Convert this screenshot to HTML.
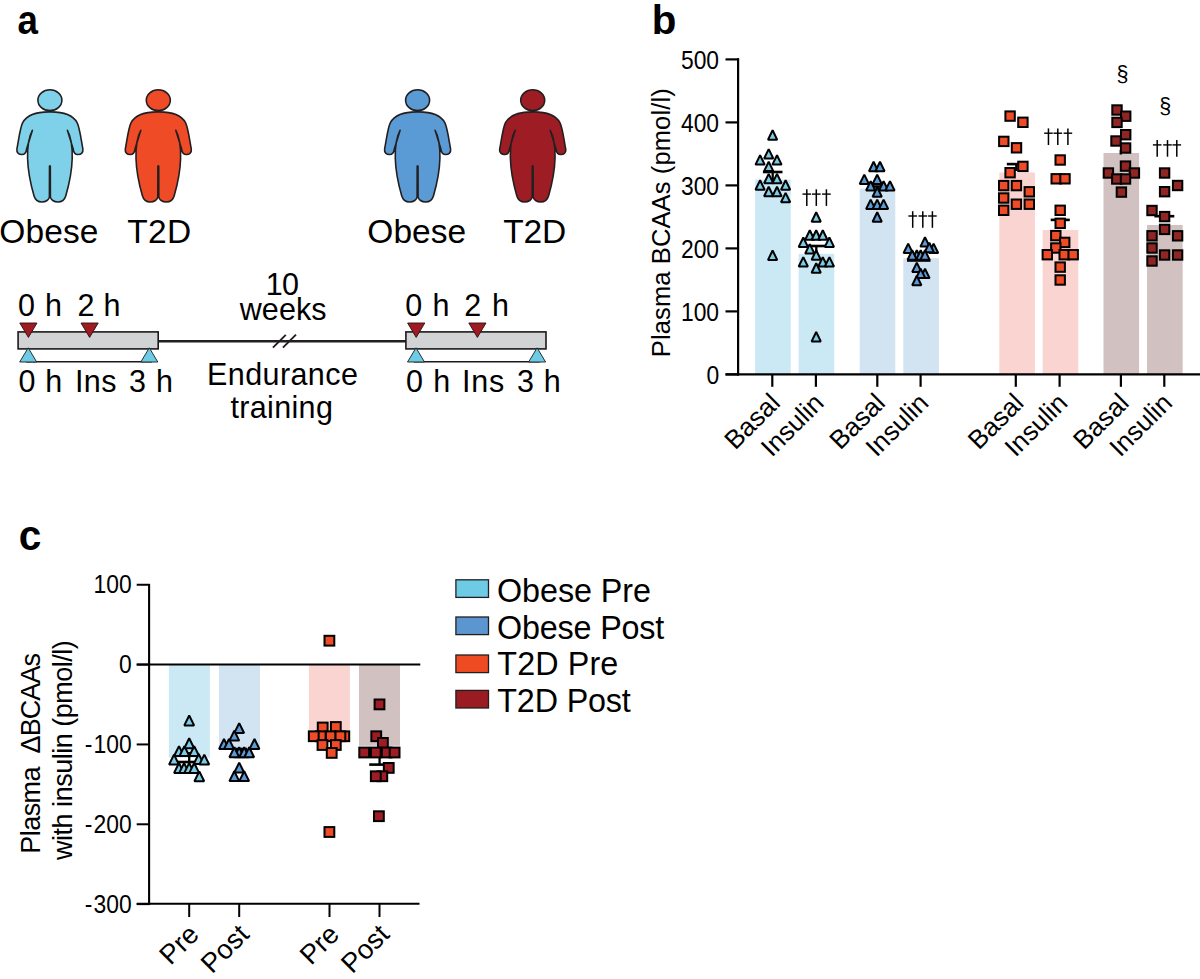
<!DOCTYPE html>
<html><head><meta charset="utf-8"><style>
html,body{margin:0;padding:0;background:#fff;overflow:hidden;}
svg{display:block;font-family:"Liberation Sans", sans-serif;}
text{fill:#000;}
</style></head><body>
<svg width="1200" height="979" viewBox="0 0 1200 979">
<text x="0" y="0" font-size="41.43" font-weight="bold" transform="translate(17.52,34.30) scale(0.887,1)">a</text>
<text x="0" y="0" font-size="40.17" font-weight="bold" transform="translate(651.84,34.11) scale(1.003,1)">b</text>
<text x="0" y="0" font-size="42.16" font-weight="bold" transform="translate(18.71,550.09) scale(0.963,1)">c</text>
<g transform="translate(49.9,90)" fill="#7fd1e9" stroke="#231f20" stroke-width="1.6" stroke-linejoin="round"><ellipse cx="0" cy="10.2" rx="12" ry="10.4"/><path d="M0 21.9 C13.3 21.7 22.6 24.6 27.2 32.6 C29.9 37.9 31.2 49.8 33 59.1 C33.6 63.1 30.6 64.7 27.9 64.5 C25.2 64.5 23.7 62.5 23.3 59.1 L17.5 40.3 C20.6 45.8 22.6 56.5 22.3 68.4 C22 80.4 18.6 96.3 15.9 105.7 C14.6 110.3 11.3 112 8 112 C4 112 0.8 109.6 0.5 107 L0.4 76.4 Q0 75.4 -0.4 76.4 L-0.5 107 C-0.8 109.6 -4 112 -8 112 C-11.3 112 -14.6 110.3 -15.9 105.7 C-18.6 96.3 -22 80.4 -22.3 68.4 C-22.6 56.5 -20.6 45.8 -17.5 40.3 L-23.3 59.1 C-23.7 62.5 -25.2 64.5 -27.9 64.5 C-30.6 64.7 -33.6 63.1 -33 59.1 C-31.2 49.8 -29.9 37.9 -27.2 32.6 C-22.6 24.6 -13.3 21.7 0 21.9 Z"/></g>
<g transform="translate(158.3,90)" fill="#ee4b26" stroke="#231f20" stroke-width="1.6" stroke-linejoin="round"><ellipse cx="0" cy="10.2" rx="12" ry="10.4"/><path d="M0 21.9 C13.3 21.7 22.6 24.6 27.2 32.6 C29.9 37.9 31.2 49.8 33 59.1 C33.6 63.1 30.6 64.7 27.9 64.5 C25.2 64.5 23.7 62.5 23.3 59.1 L17.5 40.3 C20.6 45.8 22.6 56.5 22.3 68.4 C22 80.4 18.6 96.3 15.9 105.7 C14.6 110.3 11.3 112 8 112 C4 112 0.8 109.6 0.5 107 L0.4 76.4 Q0 75.4 -0.4 76.4 L-0.5 107 C-0.8 109.6 -4 112 -8 112 C-11.3 112 -14.6 110.3 -15.9 105.7 C-18.6 96.3 -22 80.4 -22.3 68.4 C-22.6 56.5 -20.6 45.8 -17.5 40.3 L-23.3 59.1 C-23.7 62.5 -25.2 64.5 -27.9 64.5 C-30.6 64.7 -33.6 63.1 -33 59.1 C-31.2 49.8 -29.9 37.9 -27.2 32.6 C-22.6 24.6 -13.3 21.7 0 21.9 Z"/></g>
<g transform="translate(417.6,90)" fill="#5b9bd5" stroke="#231f20" stroke-width="1.6" stroke-linejoin="round"><ellipse cx="0" cy="10.2" rx="12" ry="10.4"/><path d="M0 21.9 C13.3 21.7 22.6 24.6 27.2 32.6 C29.9 37.9 31.2 49.8 33 59.1 C33.6 63.1 30.6 64.7 27.9 64.5 C25.2 64.5 23.7 62.5 23.3 59.1 L17.5 40.3 C20.6 45.8 22.6 56.5 22.3 68.4 C22 80.4 18.6 96.3 15.9 105.7 C14.6 110.3 11.3 112 8 112 C4 112 0.8 109.6 0.5 107 L0.4 76.4 Q0 75.4 -0.4 76.4 L-0.5 107 C-0.8 109.6 -4 112 -8 112 C-11.3 112 -14.6 110.3 -15.9 105.7 C-18.6 96.3 -22 80.4 -22.3 68.4 C-22.6 56.5 -20.6 45.8 -17.5 40.3 L-23.3 59.1 C-23.7 62.5 -25.2 64.5 -27.9 64.5 C-30.6 64.7 -33.6 63.1 -33 59.1 C-31.2 49.8 -29.9 37.9 -27.2 32.6 C-22.6 24.6 -13.3 21.7 0 21.9 Z"/></g>
<g transform="translate(532.7,90)" fill="#9e1d25" stroke="#231f20" stroke-width="1.6" stroke-linejoin="round"><ellipse cx="0" cy="10.2" rx="12" ry="10.4"/><path d="M0 21.9 C13.3 21.7 22.6 24.6 27.2 32.6 C29.9 37.9 31.2 49.8 33 59.1 C33.6 63.1 30.6 64.7 27.9 64.5 C25.2 64.5 23.7 62.5 23.3 59.1 L17.5 40.3 C20.6 45.8 22.6 56.5 22.3 68.4 C22 80.4 18.6 96.3 15.9 105.7 C14.6 110.3 11.3 112 8 112 C4 112 0.8 109.6 0.5 107 L0.4 76.4 Q0 75.4 -0.4 76.4 L-0.5 107 C-0.8 109.6 -4 112 -8 112 C-11.3 112 -14.6 110.3 -15.9 105.7 C-18.6 96.3 -22 80.4 -22.3 68.4 C-22.6 56.5 -20.6 45.8 -17.5 40.3 L-23.3 59.1 C-23.7 62.5 -25.2 64.5 -27.9 64.5 C-30.6 64.7 -33.6 63.1 -33 59.1 C-31.2 49.8 -29.9 37.9 -27.2 32.6 C-22.6 24.6 -13.3 21.7 0 21.9 Z"/></g>
<text x="-0.79" y="243.3" font-size="33.5" font-weight="normal" letter-spacing="0.144">Obese</text>
<text x="127.25" y="243.2" font-size="33.5" font-weight="normal" letter-spacing="0.384">T2D</text>
<text x="367.31" y="243.4" font-size="33.5" font-weight="normal" letter-spacing="0.056">Obese</text>
<text x="503.35" y="243.4" font-size="33.5" font-weight="normal" letter-spacing="-0.266">T2D</text>
<line x1="158" y1="341.2" x2="406" y2="341.2" stroke="#231f20" stroke-width="2.4"/>
<line x1="272.9" y1="347.7" x2="285.8" y2="334.8" stroke="#231f20" stroke-width="1.9"/>
<line x1="282.9" y1="347.7" x2="296" y2="334.6" stroke="#231f20" stroke-width="1.9"/>
<rect x="18.1" y="331.9" width="140.1" height="17" fill="#d1d3d4" stroke="#1a1a1a" stroke-width="1.6"/>
<line x1="26" y1="361.8" x2="152" y2="361.8" stroke="#1a1a1a" stroke-width="1.5"/>
<path d="M19.799999999999997 323 L37.0 323 L28.4 337.4 Z" fill="#9e1b22" stroke="#2a1012" stroke-width="0.9" stroke-linejoin="round"/>
<path d="M81.0 323 L98.19999999999999 323 L89.6 337.4 Z" fill="#9e1b22" stroke="#2a1012" stroke-width="0.9" stroke-linejoin="round"/>
<path d="M19.7 362 L36.7 362 L28.2 347.8 Z" fill="#6dcbe6" stroke="#1a1a1a" stroke-width="0.9" stroke-linejoin="round"/>
<path d="M140.8 362 L157.8 362 L149.3 347.8 Z" fill="#6dcbe6" stroke="#1a1a1a" stroke-width="0.9" stroke-linejoin="round"/>
<rect x="405.90000000000003" y="331.9" width="140.1" height="17" fill="#d1d3d4" stroke="#1a1a1a" stroke-width="1.6"/>
<line x1="413.8" y1="361.8" x2="539.8" y2="361.8" stroke="#1a1a1a" stroke-width="1.5"/>
<path d="M407.59999999999997 323 L424.8 323 L416.2 337.4 Z" fill="#9e1b22" stroke="#2a1012" stroke-width="0.9" stroke-linejoin="round"/>
<path d="M468.79999999999995 323 L486.0 323 L477.4 337.4 Z" fill="#9e1b22" stroke="#2a1012" stroke-width="0.9" stroke-linejoin="round"/>
<path d="M407.5 362 L424.5 362 L416.0 347.8 Z" fill="#6dcbe6" stroke="#1a1a1a" stroke-width="0.9" stroke-linejoin="round"/>
<path d="M528.6 362 L545.6 362 L537.1 347.8 Z" fill="#6dcbe6" stroke="#1a1a1a" stroke-width="0.9" stroke-linejoin="round"/>
<text x="18.01" y="316.4" font-size="30.5" font-weight="normal" letter-spacing="0.786">0 h</text>
<text x="77.47" y="316.4" font-size="30.5" font-weight="normal" letter-spacing="0.308">2 h</text>
<text x="18.41" y="392" font-size="30.5" font-weight="normal" letter-spacing="0.736">0 h</text>
<text x="74.89" y="392" font-size="30.5" font-weight="normal" letter-spacing="0.515">Ins</text>
<text x="128.94" y="392" font-size="30.5" font-weight="normal" letter-spacing="0.872">3 h</text>
<text x="405.31" y="316.4" font-size="30.5" font-weight="normal" letter-spacing="0.936">0 h</text>
<text x="464.17" y="316.4" font-size="30.5" font-weight="normal" letter-spacing="1.258">2 h</text>
<text x="406.01" y="392" font-size="30.5" font-weight="normal" letter-spacing="0.936">0 h</text>
<text x="462.09" y="392" font-size="30.5" font-weight="normal" letter-spacing="0.715">Ins</text>
<text x="516.94" y="392" font-size="30.5" font-weight="normal" letter-spacing="0.722">3 h</text>
<text x="265.68" y="295" font-size="30.5" font-weight="normal" letter-spacing="-0.611">10</text>
<text x="239.74" y="320.3" font-size="30.5" font-weight="normal" letter-spacing="0.076">weeks</text>
<text x="207.10" y="384.5" font-size="30.5" font-weight="normal" letter-spacing="0.404">Endurance</text>
<text x="230.44" y="417.6" font-size="30.5" font-weight="normal" letter-spacing="0.342">training</text>
<rect x="755.1" y="179.6" width="35.6" height="194.79999999999998" fill="#cbe9f4"/>
<rect x="798.6500000000001" y="253.8" width="35.6" height="120.59999999999997" fill="#cbe9f4"/>
<rect x="859.7" y="188.6" width="35.6" height="185.79999999999998" fill="#d2e3f1"/>
<rect x="903.3000000000001" y="258.2" width="35.6" height="116.19999999999999" fill="#d2e3f1"/>
<rect x="999.3000000000001" y="172.5" width="35.6" height="201.89999999999998" fill="#f9d4d0"/>
<rect x="1042.7" y="230" width="35.6" height="144.39999999999998" fill="#f9d4d0"/>
<rect x="1103.5" y="153" width="35.6" height="221.39999999999998" fill="#d1c1c1"/>
<rect x="1147.05" y="225" width="35.6" height="149.39999999999998" fill="#d1c1c1"/>
<line x1="738.1" y1="58.3" x2="738.1" y2="375.5" stroke="#000" stroke-width="2.2"/>
<line x1="725.5" y1="374.4" x2="1200" y2="374.4" stroke="#000" stroke-width="2.2"/>
<line x1="725.5" y1="374.40" x2="739" y2="374.40" stroke="#000" stroke-width="2.2"/>
<text x="0" y="0" font-size="25.4" transform="translate(706.38,383.85) scale(0.9,1)">0</text>
<line x1="725.5" y1="311.40" x2="739" y2="311.40" stroke="#000" stroke-width="2.2"/>
<text x="0" y="0" font-size="25.4" transform="translate(680.95,320.85) scale(0.9,1)">100</text>
<line x1="725.5" y1="248.40" x2="739" y2="248.40" stroke="#000" stroke-width="2.2"/>
<text x="0" y="0" font-size="25.4" transform="translate(680.95,257.85) scale(0.9,1)">200</text>
<line x1="725.5" y1="185.40" x2="739" y2="185.40" stroke="#000" stroke-width="2.2"/>
<text x="0" y="0" font-size="25.4" transform="translate(680.95,194.85) scale(0.9,1)">300</text>
<line x1="725.5" y1="122.40" x2="739" y2="122.40" stroke="#000" stroke-width="2.2"/>
<text x="0" y="0" font-size="25.4" transform="translate(680.95,131.85) scale(0.9,1)">400</text>
<line x1="725.5" y1="59.40" x2="739" y2="59.40" stroke="#000" stroke-width="2.2"/>
<text x="0" y="0" font-size="25.4" transform="translate(680.95,68.85) scale(0.9,1)">500</text>
<line x1="772.3" y1="374.4" x2="772.3" y2="386.8" stroke="#000" stroke-width="2.2"/>
<line x1="815.9" y1="374.4" x2="815.9" y2="386.8" stroke="#000" stroke-width="2.2"/>
<line x1="877.3" y1="374.4" x2="877.3" y2="386.8" stroke="#000" stroke-width="2.2"/>
<line x1="920.6" y1="374.4" x2="920.6" y2="386.8" stroke="#000" stroke-width="2.2"/>
<line x1="1015.8" y1="374.4" x2="1015.8" y2="386.8" stroke="#000" stroke-width="2.2"/>
<line x1="1059.6" y1="374.4" x2="1059.6" y2="386.8" stroke="#000" stroke-width="2.2"/>
<line x1="1120.9" y1="374.4" x2="1120.9" y2="386.8" stroke="#000" stroke-width="2.2"/>
<line x1="1164.3" y1="374.4" x2="1164.3" y2="386.8" stroke="#000" stroke-width="2.2"/>
<text x="0" y="0" font-size="26.2" text-anchor="end" transform="translate(781.5,404.5) rotate(-45)">Basal</text>
<text x="0" y="0" font-size="26.2" text-anchor="end" transform="translate(825.3,404.5) rotate(-45)">Insulin</text>
<text x="0" y="0" font-size="26.2" text-anchor="end" transform="translate(886.6999999999999,404.5) rotate(-45)">Basal</text>
<text x="0" y="0" font-size="26.2" text-anchor="end" transform="translate(930.0,404.5) rotate(-45)">Insulin</text>
<text x="0" y="0" font-size="26.2" text-anchor="end" transform="translate(1025.2,404.5) rotate(-45)">Basal</text>
<text x="0" y="0" font-size="26.2" text-anchor="end" transform="translate(1069.0,404.5) rotate(-45)">Insulin</text>
<text x="0" y="0" font-size="26.2" text-anchor="end" transform="translate(1130.3000000000002,404.5) rotate(-45)">Basal</text>
<text x="0" y="0" font-size="26.2" text-anchor="end" transform="translate(1173.7,404.5) rotate(-45)">Insulin</text>
<text x="0" y="0" font-size="25.5" letter-spacing="0.124" transform="translate(670,357.19) rotate(-90)">Plasma BCAAs (pmol/l)</text>
<line x1="762.9" y1="172" x2="782.5" y2="172" stroke="#000" stroke-width="2.6"/>
<line x1="772.7" y1="172" x2="772.7" y2="183" stroke="#000" stroke-width="2.3"/>
<g stroke="#000" stroke-width="2"><path d="M768.00 139.70 L777.20 139.70 L772.60 130.30 Z" fill="#7ccbe7" stroke-linejoin="bevel"/><path d="M764.10 158.50 L773.30 158.50 L768.70 149.10 Z" fill="#7ccbe7" stroke-linejoin="bevel"/><path d="M755.50 164.60 L764.70 164.60 L760.10 155.20 Z" fill="#7ccbe7" stroke-linejoin="bevel"/><path d="M772.40 164.60 L781.60 164.60 L777.00 155.20 Z" fill="#7ccbe7" stroke-linejoin="bevel"/><path d="M764.10 171.10 L773.30 171.10 L768.70 161.70 Z" fill="#7ccbe7" stroke-linejoin="bevel"/><path d="M764.10 183.30 L773.30 183.30 L768.70 173.90 Z" fill="#7ccbe7" stroke-linejoin="bevel"/><path d="M772.40 183.30 L781.60 183.30 L777.00 173.90 Z" fill="#7ccbe7" stroke-linejoin="bevel"/><path d="M755.50 189.70 L764.70 189.70 L760.10 180.30 Z" fill="#7ccbe7" stroke-linejoin="bevel"/><path d="M781.00 189.70 L790.20 189.70 L785.60 180.30 Z" fill="#7ccbe7" stroke-linejoin="bevel"/><path d="M764.10 196.20 L773.30 196.20 L768.70 186.80 Z" fill="#7ccbe7" stroke-linejoin="bevel"/><path d="M772.40 196.20 L781.60 196.20 L777.00 186.80 Z" fill="#7ccbe7" stroke-linejoin="bevel"/><path d="M781.00 202.30 L790.20 202.30 L785.60 192.90 Z" fill="#7ccbe7" stroke-linejoin="bevel"/><path d="M768.00 259.90 L777.20 259.90 L772.60 250.50 Z" fill="#7ccbe7" stroke-linejoin="bevel"/></g>
<line x1="807.4" y1="246" x2="825.8" y2="246" stroke="#000" stroke-width="2.6"/>
<line x1="816.3" y1="246" x2="816.3" y2="251.6" stroke="#000" stroke-width="2.3"/>
<g stroke="#000" stroke-width="2"><path d="M811.60 221.70 L820.80 221.70 L816.20 212.30 Z" fill="#7ccbe7" stroke-linejoin="bevel"/><path d="M805.20 239.70 L814.40 239.70 L809.80 230.30 Z" fill="#7ccbe7" stroke-linejoin="bevel"/><path d="M811.60 239.70 L820.80 239.70 L816.20 230.30 Z" fill="#7ccbe7" stroke-linejoin="bevel"/><path d="M818.20 239.70 L827.40 239.70 L822.80 230.30 Z" fill="#7ccbe7" stroke-linejoin="bevel"/><path d="M798.70 246.90 L807.90 246.90 L803.30 237.50 Z" fill="#7ccbe7" stroke-linejoin="bevel"/><path d="M824.80 246.90 L834.00 246.90 L829.40 237.50 Z" fill="#7ccbe7" stroke-linejoin="bevel"/><path d="M805.20 253.50 L814.40 253.50 L809.80 244.10 Z" fill="#7ccbe7" stroke-linejoin="bevel"/><path d="M811.60 259.70 L820.80 259.70 L816.20 250.30 Z" fill="#7ccbe7" stroke-linejoin="bevel"/><path d="M798.70 266.50 L807.90 266.50 L803.30 257.10 Z" fill="#7ccbe7" stroke-linejoin="bevel"/><path d="M818.20 266.50 L827.40 266.50 L822.80 257.10 Z" fill="#7ccbe7" stroke-linejoin="bevel"/><path d="M824.80 266.50 L834.00 266.50 L829.40 257.10 Z" fill="#7ccbe7" stroke-linejoin="bevel"/><path d="M811.60 272.70 L820.80 272.70 L816.20 263.30 Z" fill="#7ccbe7" stroke-linejoin="bevel"/><path d="M811.60 341.40 L820.80 341.40 L816.20 332.00 Z" fill="#7ccbe7" stroke-linejoin="bevel"/></g>
<line x1="868" y1="186.5" x2="887" y2="186.5" stroke="#000" stroke-width="2.6"/>
<line x1="877.3" y1="186.5" x2="877.3" y2="192" stroke="#000" stroke-width="2.3"/>
<g stroke="#000" stroke-width="2"><path d="M869.00 171.20 L878.20 171.20 L873.60 161.80 Z" fill="#5b9bd5" stroke-linejoin="bevel"/><path d="M875.40 171.20 L884.60 171.20 L880.00 161.80 Z" fill="#5b9bd5" stroke-linejoin="bevel"/><path d="M859.70 184.00 L868.90 184.00 L864.30 174.60 Z" fill="#5b9bd5" stroke-linejoin="bevel"/><path d="M872.60 184.00 L881.80 184.00 L877.20 174.60 Z" fill="#5b9bd5" stroke-linejoin="bevel"/><path d="M866.10 190.50 L875.30 190.50 L870.70 181.10 Z" fill="#5b9bd5" stroke-linejoin="bevel"/><path d="M879.00 190.50 L888.20 190.50 L883.60 181.10 Z" fill="#5b9bd5" stroke-linejoin="bevel"/><path d="M885.40 190.50 L894.60 190.50 L890.00 181.10 Z" fill="#5b9bd5" stroke-linejoin="bevel"/><path d="M872.60 196.70 L881.80 196.70 L877.20 187.30 Z" fill="#5b9bd5" stroke-linejoin="bevel"/><path d="M866.10 209.00 L875.30 209.00 L870.70 199.60 Z" fill="#5b9bd5" stroke-linejoin="bevel"/><path d="M872.60 209.00 L881.80 209.00 L877.20 199.60 Z" fill="#5b9bd5" stroke-linejoin="bevel"/><path d="M879.00 209.00 L888.20 209.00 L883.60 199.60 Z" fill="#5b9bd5" stroke-linejoin="bevel"/><path d="M872.60 221.70 L881.80 221.70 L877.20 212.30 Z" fill="#5b9bd5" stroke-linejoin="bevel"/></g>
<line x1="907" y1="260.5" x2="930.5" y2="260.5" stroke="#000" stroke-width="2.6"/>
<g stroke="#000" stroke-width="2"><path d="M920.40 246.60 L929.60 246.60 L925.00 237.20 Z" fill="#5b9bd5" stroke-linejoin="bevel"/><path d="M903.60 253.00 L912.80 253.00 L908.20 243.60 Z" fill="#5b9bd5" stroke-linejoin="bevel"/><path d="M929.00 253.00 L938.20 253.00 L933.60 243.60 Z" fill="#5b9bd5" stroke-linejoin="bevel"/><path d="M924.70 252.20 L933.90 252.20 L929.30 242.80 Z" fill="#5b9bd5" stroke-linejoin="bevel"/><path d="M912.20 259.70 L921.40 259.70 L916.80 250.30 Z" fill="#5b9bd5" stroke-linejoin="bevel"/><path d="M916.10 259.70 L925.30 259.70 L920.70 250.30 Z" fill="#5b9bd5" stroke-linejoin="bevel"/><path d="M907.60 259.70 L916.80 259.70 L912.20 250.30 Z" fill="#5b9bd5" stroke-linejoin="bevel"/><path d="M920.40 259.70 L929.60 259.70 L925.00 250.30 Z" fill="#5b9bd5" stroke-linejoin="bevel"/><path d="M912.20 272.00 L921.40 272.00 L916.80 262.60 Z" fill="#5b9bd5" stroke-linejoin="bevel"/><path d="M920.40 278.10 L929.60 278.10 L925.00 268.70 Z" fill="#5b9bd5" stroke-linejoin="bevel"/><path d="M916.10 278.10 L925.30 278.10 L920.70 268.70 Z" fill="#5b9bd5" stroke-linejoin="bevel"/><path d="M912.20 285.20 L921.40 285.20 L916.80 275.80 Z" fill="#5b9bd5" stroke-linejoin="bevel"/></g>
<line x1="1006.8" y1="164.1" x2="1026" y2="164.1" stroke="#000" stroke-width="2.6"/>
<line x1="1016.3" y1="164.1" x2="1016.3" y2="171" stroke="#000" stroke-width="2.3"/>
<g stroke="#000" stroke-width="2"><rect x="1005.40" y="111.40" width="9.4" height="9.4" fill="#ee4b26"/><rect x="1018.20" y="117.60" width="9.4" height="9.4" fill="#ee4b26"/><rect x="999.10" y="136.70" width="9.4" height="9.4" fill="#ee4b26"/><rect x="1011.80" y="143.10" width="9.4" height="9.4" fill="#ee4b26"/><rect x="1018.20" y="161.70" width="9.4" height="9.4" fill="#ee4b26"/><rect x="1005.40" y="168.00" width="9.4" height="9.4" fill="#ee4b26"/><rect x="999.00" y="180.90" width="9.4" height="9.4" fill="#ee4b26"/><rect x="1011.70" y="180.90" width="9.4" height="9.4" fill="#ee4b26"/><rect x="1024.60" y="187.10" width="9.4" height="9.4" fill="#ee4b26"/><rect x="999.00" y="193.30" width="9.4" height="9.4" fill="#ee4b26"/><rect x="1011.70" y="199.50" width="9.4" height="9.4" fill="#ee4b26"/><rect x="1024.60" y="199.50" width="9.4" height="9.4" fill="#ee4b26"/><rect x="999.00" y="205.60" width="9.4" height="9.4" fill="#ee4b26"/></g>
<line x1="1050.7" y1="219.9" x2="1069.8" y2="219.9" stroke="#000" stroke-width="2.6"/>
<line x1="1060.2" y1="219.9" x2="1060.2" y2="228" stroke="#000" stroke-width="2.3"/>
<g stroke="#000" stroke-width="2"><rect x="1055.50" y="155.30" width="9.4" height="9.4" fill="#ee4b26"/><rect x="1051.50" y="174.10" width="9.4" height="9.4" fill="#ee4b26"/><rect x="1060.30" y="174.10" width="9.4" height="9.4" fill="#ee4b26"/><rect x="1055.50" y="205.60" width="9.4" height="9.4" fill="#ee4b26"/><rect x="1055.50" y="218.60" width="9.4" height="9.4" fill="#ee4b26"/><rect x="1051.10" y="230.90" width="9.4" height="9.4" fill="#ee4b26"/><rect x="1060.00" y="237.70" width="9.4" height="9.4" fill="#ee4b26"/><rect x="1051.10" y="243.30" width="9.4" height="9.4" fill="#ee4b26"/><rect x="1042.60" y="250.00" width="9.4" height="9.4" fill="#ee4b26"/><rect x="1059.50" y="250.00" width="9.4" height="9.4" fill="#ee4b26"/><rect x="1068.50" y="250.00" width="9.4" height="9.4" fill="#ee4b26"/><rect x="1055.50" y="262.40" width="9.4" height="9.4" fill="#ee4b26"/><rect x="1055.50" y="275.30" width="9.4" height="9.4" fill="#ee4b26"/></g>
<line x1="1120.8" y1="150" x2="1120.8" y2="150" stroke="#000" stroke-width="2.6"/>
<line x1="1120.8" y1="150" x2="1120.8" y2="154.5" stroke="#000" stroke-width="2.3"/>
<g stroke="#000" stroke-width="2"><rect x="1112.30" y="105.30" width="9.4" height="9.4" fill="#8f2624"/><rect x="1121.00" y="111.50" width="9.4" height="9.4" fill="#8f2624"/><rect x="1112.30" y="117.70" width="9.4" height="9.4" fill="#8f2624"/><rect x="1121.00" y="130.00" width="9.4" height="9.4" fill="#8f2624"/><rect x="1111.30" y="136.30" width="9.4" height="9.4" fill="#8f2624"/><rect x="1120.90" y="143.30" width="9.4" height="9.4" fill="#8f2624"/><rect x="1120.80" y="161.40" width="9.4" height="9.4" fill="#8f2624"/><rect x="1103.70" y="168.30" width="9.4" height="9.4" fill="#8f2624"/><rect x="1129.70" y="168.30" width="9.4" height="9.4" fill="#8f2624"/><rect x="1112.10" y="174.30" width="9.4" height="9.4" fill="#8f2624"/><rect x="1120.80" y="174.30" width="9.4" height="9.4" fill="#8f2624"/><rect x="1116.70" y="187.40" width="9.4" height="9.4" fill="#8f2624"/></g>
<line x1="1154.4" y1="216.2" x2="1174.3" y2="216.2" stroke="#000" stroke-width="2.6"/>
<line x1="1164.6" y1="216.2" x2="1164.6" y2="222" stroke="#000" stroke-width="2.3"/>
<g stroke="#000" stroke-width="2"><rect x="1159.90" y="168.30" width="9.4" height="9.4" fill="#8f2624"/><rect x="1172.90" y="180.80" width="9.4" height="9.4" fill="#8f2624"/><rect x="1159.90" y="187.00" width="9.4" height="9.4" fill="#8f2624"/><rect x="1147.30" y="205.80" width="9.4" height="9.4" fill="#8f2624"/><rect x="1159.90" y="211.90" width="9.4" height="9.4" fill="#8f2624"/><rect x="1159.90" y="224.70" width="9.4" height="9.4" fill="#8f2624"/><rect x="1147.30" y="231.10" width="9.4" height="9.4" fill="#8f2624"/><rect x="1172.90" y="231.10" width="9.4" height="9.4" fill="#8f2624"/><rect x="1147.30" y="243.30" width="9.4" height="9.4" fill="#8f2624"/><rect x="1159.90" y="250.30" width="9.4" height="9.4" fill="#8f2624"/><rect x="1172.90" y="250.30" width="9.4" height="9.4" fill="#8f2624"/><rect x="1147.30" y="256.30" width="9.4" height="9.4" fill="#8f2624"/></g>
<line x1="806.8" y1="189.3" x2="806.8" y2="205.9" stroke="#000" stroke-width="1.5"/>
<line x1="802.5" y1="194.10000000000002" x2="811.0999999999999" y2="194.10000000000002" stroke="#000" stroke-width="1.4"/>
<line x1="816.3" y1="189.3" x2="816.3" y2="205.9" stroke="#000" stroke-width="1.5"/>
<line x1="812.0" y1="194.10000000000002" x2="820.5999999999999" y2="194.10000000000002" stroke="#000" stroke-width="1.4"/>
<line x1="826.4" y1="189.3" x2="826.4" y2="205.9" stroke="#000" stroke-width="1.5"/>
<line x1="822.1" y1="194.10000000000002" x2="830.6999999999999" y2="194.10000000000002" stroke="#000" stroke-width="1.4"/>
<line x1="912.7" y1="211.2" x2="912.7" y2="227.79999999999998" stroke="#000" stroke-width="1.5"/>
<line x1="908.4000000000001" y1="216.0" x2="917.0" y2="216.0" stroke="#000" stroke-width="1.4"/>
<line x1="922.8" y1="211.2" x2="922.8" y2="227.79999999999998" stroke="#000" stroke-width="1.5"/>
<line x1="918.5" y1="216.0" x2="927.0999999999999" y2="216.0" stroke="#000" stroke-width="1.4"/>
<line x1="932.4" y1="211.2" x2="932.4" y2="227.79999999999998" stroke="#000" stroke-width="1.5"/>
<line x1="928.1" y1="216.0" x2="936.6999999999999" y2="216.0" stroke="#000" stroke-width="1.4"/>
<line x1="1048.45" y1="128.4" x2="1048.45" y2="145.0" stroke="#000" stroke-width="1.5"/>
<line x1="1044.15" y1="133.20000000000002" x2="1052.75" y2="133.20000000000002" stroke="#000" stroke-width="1.4"/>
<line x1="1057.8" y1="128.4" x2="1057.8" y2="145.0" stroke="#000" stroke-width="1.5"/>
<line x1="1053.5" y1="133.20000000000002" x2="1062.1" y2="133.20000000000002" stroke="#000" stroke-width="1.4"/>
<line x1="1067.9" y1="128.4" x2="1067.9" y2="145.0" stroke="#000" stroke-width="1.5"/>
<line x1="1063.6000000000001" y1="133.20000000000002" x2="1072.2" y2="133.20000000000002" stroke="#000" stroke-width="1.4"/>
<line x1="1157.2" y1="140.1" x2="1157.2" y2="156.7" stroke="#000" stroke-width="1.5"/>
<line x1="1152.9" y1="144.9" x2="1161.5" y2="144.9" stroke="#000" stroke-width="1.4"/>
<line x1="1167.5" y1="140.1" x2="1167.5" y2="156.7" stroke="#000" stroke-width="1.5"/>
<line x1="1163.2" y1="144.9" x2="1171.8" y2="144.9" stroke="#000" stroke-width="1.4"/>
<line x1="1176.8" y1="140.1" x2="1176.8" y2="156.7" stroke="#000" stroke-width="1.5"/>
<line x1="1172.5" y1="144.9" x2="1181.1" y2="144.9" stroke="#000" stroke-width="1.4"/>
<text x="1122.5" y="81.1" font-size="21.5" text-anchor="middle" font-weight="normal" >§</text>
<text x="1165.3" y="113.2" font-size="21.5" text-anchor="middle" font-weight="normal" >§</text>
<rect x="168.9" y="664.6" width="41" height="93.10000000000002" fill="#cbe9f4"/>
<rect x="219.0" y="664.6" width="41" height="85.0" fill="#d2e3f1"/>
<rect x="308.9" y="664.6" width="41" height="65.39999999999998" fill="#f9d4d0"/>
<rect x="359.0" y="664.6" width="41" height="81.19999999999993" fill="#d1c1c1"/>
<line x1="149.1" y1="583.9" x2="149.1" y2="905" stroke="#000" stroke-width="2.1"/>
<line x1="136.7" y1="664.6" x2="420.3" y2="664.6" stroke="#000" stroke-width="2"/>
<line x1="136.7" y1="903.8" x2="419.5" y2="903.8" stroke="#000" stroke-width="2"/>
<line x1="136.7" y1="584.76" x2="149.8" y2="584.76" stroke="#000" stroke-width="2"/>
<text x="0" y="0" font-size="25.4" transform="translate(93.50,593.16) scale(0.9,1)">100</text>
<line x1="136.7" y1="664.60" x2="149.8" y2="664.60" stroke="#000" stroke-width="2"/>
<text x="0" y="0" font-size="25.4" transform="translate(118.93,673.00) scale(0.9,1)">0</text>
<line x1="136.7" y1="744.44" x2="149.8" y2="744.44" stroke="#000" stroke-width="2"/>
<text x="0" y="0" font-size="25.4" transform="translate(93.50,752.84) scale(0.9,1)">100</text>
<text x="0" y="0" font-size="25.4" transform="translate(84.68,752.84) scale(0.9,1)">-</text>
<line x1="136.7" y1="824.28" x2="149.8" y2="824.28" stroke="#000" stroke-width="2"/>
<text x="0" y="0" font-size="25.4" transform="translate(93.50,832.68) scale(0.9,1)">200</text>
<text x="0" y="0" font-size="25.4" transform="translate(84.68,832.68) scale(0.9,1)">-</text>
<line x1="136.7" y1="904.12" x2="149.8" y2="904.12" stroke="#000" stroke-width="2"/>
<text x="0" y="0" font-size="25.4" transform="translate(93.50,912.52) scale(0.9,1)">300</text>
<text x="0" y="0" font-size="25.4" transform="translate(84.68,912.52) scale(0.9,1)">-</text>
<line x1="189.2" y1="903.8" x2="189.2" y2="917" stroke="#000" stroke-width="2"/>
<text x="0" y="0" font-size="27.2" text-anchor="end" transform="translate(200.5,936) rotate(-45)">Pre</text>
<line x1="239.2" y1="903.8" x2="239.2" y2="917" stroke="#000" stroke-width="2"/>
<text x="0" y="0" font-size="27.2" text-anchor="end" transform="translate(250.5,936) rotate(-45)">Post</text>
<line x1="329.5" y1="903.8" x2="329.5" y2="917" stroke="#000" stroke-width="2"/>
<text x="0" y="0" font-size="27.2" text-anchor="end" transform="translate(340.8,936) rotate(-45)">Pre</text>
<line x1="379.5" y1="903.8" x2="379.5" y2="917" stroke="#000" stroke-width="2"/>
<text x="0" y="0" font-size="27.2" text-anchor="end" transform="translate(390.8,936) rotate(-45)">Post</text>
<text x="0" y="0" font-size="27" letter-spacing="-0.523" transform="translate(40,853.81) rotate(-90)">Plasma</text>
<text x="0" y="0" font-size="27" letter-spacing="-0.936" transform="translate(40,753.40) rotate(-90)">ΔBCAAs</text>
<text x="0" y="0" font-size="27" letter-spacing="-0.487" transform="translate(72.2,859.96) rotate(-90)">with insulin (pmol/l)</text>
<line x1="177" y1="762" x2="196.5" y2="762" stroke="#000" stroke-width="2.6"/>
<line x1="189.2" y1="762" x2="189.2" y2="752" stroke="#000" stroke-width="2.3"/>
<g stroke="#000" stroke-width="2"><path d="M184.30 725.40 L194.10 725.40 L189.20 715.50 Z" fill="#7ccbe7" stroke-linejoin="bevel"/><path d="M174.10 756.00 L183.90 756.00 L179.00 746.10 Z" fill="#7ccbe7" stroke-linejoin="bevel"/><path d="M179.50 756.00 L189.30 756.00 L184.40 746.10 Z" fill="#7ccbe7" stroke-linejoin="bevel"/><path d="M189.30 756.00 L199.10 756.00 L194.20 746.10 Z" fill="#7ccbe7" stroke-linejoin="bevel"/><path d="M184.30 748.20 L194.10 748.20 L189.20 738.30 Z" fill="#7ccbe7" stroke-linejoin="bevel"/><path d="M193.80 763.90 L203.60 763.90 L198.70 754.00 Z" fill="#7ccbe7" stroke-linejoin="bevel"/><path d="M169.10 764.50 L178.90 764.50 L174.00 754.60 Z" fill="#7ccbe7" stroke-linejoin="bevel"/><path d="M199.40 764.50 L209.20 764.50 L204.30 754.60 Z" fill="#7ccbe7" stroke-linejoin="bevel"/><path d="M174.10 772.90 L183.90 772.90 L179.00 763.00 Z" fill="#7ccbe7" stroke-linejoin="bevel"/><path d="M179.20 772.90 L189.00 772.90 L184.10 763.00 Z" fill="#7ccbe7" stroke-linejoin="bevel"/><path d="M184.30 772.90 L194.10 772.90 L189.20 763.00 Z" fill="#7ccbe7" stroke-linejoin="bevel"/><path d="M189.30 772.90 L199.10 772.90 L194.20 763.00 Z" fill="#7ccbe7" stroke-linejoin="bevel"/><path d="M194.40 781.30 L204.20 781.30 L199.30 771.40 Z" fill="#7ccbe7" stroke-linejoin="bevel"/></g>
<line x1="232" y1="749" x2="247" y2="749" stroke="#000" stroke-width="2.6"/>
<g stroke="#000" stroke-width="2"><path d="M234.30 733.00 L244.10 733.00 L239.20 723.10 Z" fill="#5b9bd5" stroke-linejoin="bevel"/><path d="M229.40 740.60 L239.20 740.60 L234.30 730.70 Z" fill="#5b9bd5" stroke-linejoin="bevel"/><path d="M219.10 748.90 L228.90 748.90 L224.00 739.00 Z" fill="#5b9bd5" stroke-linejoin="bevel"/><path d="M224.10 748.90 L233.90 748.90 L229.00 739.00 Z" fill="#5b9bd5" stroke-linejoin="bevel"/><path d="M249.60 748.90 L259.40 748.90 L254.50 739.00 Z" fill="#5b9bd5" stroke-linejoin="bevel"/><path d="M234.30 757.20 L244.10 757.20 L239.20 747.30 Z" fill="#5b9bd5" stroke-linejoin="bevel"/><path d="M239.30 757.20 L249.10 757.20 L244.20 747.30 Z" fill="#5b9bd5" stroke-linejoin="bevel"/><path d="M229.40 757.20 L239.20 757.20 L234.30 747.30 Z" fill="#5b9bd5" stroke-linejoin="bevel"/><path d="M244.30 757.20 L254.10 757.20 L249.20 747.30 Z" fill="#5b9bd5" stroke-linejoin="bevel"/><path d="M234.30 772.50 L244.10 772.50 L239.20 762.60 Z" fill="#5b9bd5" stroke-linejoin="bevel"/><path d="M229.40 781.10 L239.20 781.10 L234.30 771.20 Z" fill="#5b9bd5" stroke-linejoin="bevel"/><path d="M239.30 781.10 L249.10 781.10 L244.20 771.20 Z" fill="#5b9bd5" stroke-linejoin="bevel"/></g>
<line x1="317" y1="737" x2="342" y2="737" stroke="#000" stroke-width="2.6"/>
<line x1="329.4" y1="737" x2="329.4" y2="742" stroke="#000" stroke-width="2.3"/>
<g stroke="#000" stroke-width="2"><rect x="339.40" y="731.35" width="9.8" height="9.8" fill="#ee4b26"/><rect x="324.50" y="635.80" width="9.8" height="9.8" fill="#ee4b26"/><rect x="317.80" y="722.60" width="9.8" height="9.8" fill="#ee4b26"/><rect x="330.90" y="722.10" width="9.8" height="9.8" fill="#ee4b26"/><rect x="315.90" y="731.35" width="9.8" height="9.8" fill="#ee4b26"/><rect x="308.85" y="731.35" width="9.8" height="9.8" fill="#ee4b26"/><rect x="325.90" y="731.35" width="9.8" height="9.8" fill="#ee4b26"/><rect x="335.50" y="731.35" width="9.8" height="9.8" fill="#ee4b26"/><rect x="317.60" y="740.10" width="9.8" height="9.8" fill="#ee4b26"/><rect x="330.90" y="740.10" width="9.8" height="9.8" fill="#ee4b26"/><rect x="326.80" y="748.00" width="9.8" height="9.8" fill="#ee4b26"/><rect x="324.50" y="827.10" width="9.8" height="9.8" fill="#ee4b26"/></g>
<line x1="369.2" y1="764.6" x2="389.6" y2="764.6" stroke="#000" stroke-width="2.6"/>
<line x1="379.6" y1="764.6" x2="379.6" y2="752" stroke="#000" stroke-width="2.3"/>
<g stroke="#000" stroke-width="2"><rect x="374.60" y="699.50" width="9.8" height="9.8" fill="#9e1c24"/><rect x="371.35" y="731.35" width="9.8" height="9.8" fill="#9e1c24"/><rect x="378.00" y="738.00" width="9.8" height="9.8" fill="#9e1c24"/><rect x="381.80" y="747.60" width="9.8" height="9.8" fill="#9e1c24"/><rect x="359.30" y="747.60" width="9.8" height="9.8" fill="#9e1c24"/><rect x="370.90" y="747.60" width="9.8" height="9.8" fill="#9e1c24"/><rect x="389.70" y="747.60" width="9.8" height="9.8" fill="#9e1c24"/><rect x="383.85" y="763.00" width="9.8" height="9.8" fill="#9e1c24"/><rect x="377.40" y="771.35" width="9.8" height="9.8" fill="#9e1c24"/><rect x="370.90" y="771.35" width="9.8" height="9.8" fill="#9e1c24"/><rect x="374.00" y="811.30" width="9.8" height="9.8" fill="#9e1c24"/></g>
<rect x="455.9" y="579.8" width="32.6" height="17.6" fill="#6dcbe6" stroke="#231f20" stroke-width="1.3"/>
<text x="497.07" y="601.6" font-size="32.3" font-weight="normal" letter-spacing="-0.067">Obese Pre</text>
<rect x="455.9" y="617.0" width="32.6" height="17.6" fill="#5b96d0" stroke="#231f20" stroke-width="1.3"/>
<text x="497.07" y="638.6" font-size="32.3" font-weight="normal" letter-spacing="-0.167">Obese Post</text>
<rect x="455.9" y="655.0" width="32.6" height="17.6" fill="#ee4b22" stroke="#231f20" stroke-width="1.3"/>
<text x="497.27" y="675.3" font-size="32.3" font-weight="normal" letter-spacing="0.134">T2D Pre</text>
<rect x="455.9" y="690.4" width="32.6" height="17.6" fill="#9b1b22" stroke="#231f20" stroke-width="1.3"/>
<text x="497.27" y="711.5" font-size="32.3" font-weight="normal" letter-spacing="-0.152">T2D Post</text>
</svg>
</body></html>
